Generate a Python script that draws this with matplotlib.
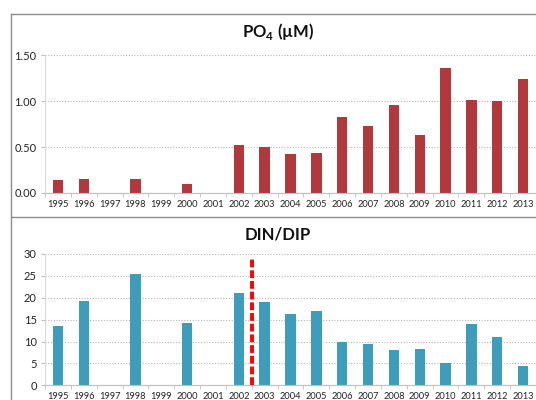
import matplotlib
matplotlib.use("Agg")
import matplotlib.pyplot as plt
import numpy as np
from matplotlib.lines import Line2D

years = [str(y) for y in range(1995, 2014)]
po4 = [0.14, 0.15, None, 0.15, None, 0.10, None, 0.52, 0.50, 0.42, 0.44,
       0.83, 0.73, 0.96, 0.63, 1.36, 1.01, 1.00, 1.24]
din_dip = [13.5, 19.2, None, 25.4, None, 14.2, None, 21.2, 19.1, 16.2, 17.0,
           10.0, 9.4, 8.0, 8.3, 5.0, 13.9, 11.1, 4.4]
po4_ticks = [0.0, 0.5, 1.0, 1.5]
ratio_ticks = [0, 5, 10, 15, 20, 25, 30]
break_after = "2002"

plt.rcParams['font.family'] = ['Lato', 'DejaVu Sans']
plt.rcParams['mathtext.fontset'] = 'custom'
plt.rcParams['mathtext.rm'] = 'Lato'
plt.rcParams['mathtext.bf'] = 'Lato:bold'

W, H = 536, 400
fig = plt.figure(figsize=(W / 100, H / 100), dpi=100)


def frac_x(px):
    return px / W


def frac_y(py):
    return 1 - py / H


def style_axes(ax, ticks, fmt):
    ax.set_xlim(-0.5, len(years) - 0.5)
    ax.set_ylim(ticks[0], ticks[-1])
    ax.set_yticks(ticks)
    ax.set_yticklabels([fmt(t) for t in ticks], fontsize=8, color='#222222')
    ax.set_xticks(range(len(years)))
    ax.set_xticklabels(years, fontsize=6.7, color='#222222')
    ax.set_xticks(np.arange(-0.5, len(years), 1), minor=True)
    ax.tick_params(axis='x', which='major', length=0, pad=5)
    ax.tick_params(axis='x', which='minor', length=3, color='#bfbfbf', direction='out')
    ax.tick_params(axis='y', length=3, color='#bfbfbf', pad=3)
    for s in ['top', 'right']:
        ax.spines[s].set_visible(False)
    ax.spines['left'].set_color('#d9d9d9')
    ax.spines['bottom'].set_color('#bfbfbf')
    ax.grid(axis='y', linestyle=(0, (1, 1.5)), color='#b5b5b5', linewidth=0.8)
    ax.set_axisbelow(True)


def bar_values(vals):
    return [np.nan if v is None else v for v in vals]


x = np.arange(len(years))

# Phosphate panel
ax1 = fig.add_axes([frac_x(45), frac_y(193), frac_x(536) - frac_x(45), frac_y(55) - frac_y(193)])
ax1.bar(x, bar_values(po4), width=0.4, color='#B1393D', edgecolor='none')
style_axes(ax1, po4_ticks, lambda t: f"{t:.2f}")
fig.text(frac_x(278), frac_y(32), r"PO$_\mathbf{4}$ (µM)", ha='center', va='center',
         fontsize=12, fontweight='bold', color='#111111')

# DIN/DIP panel
ax2 = fig.add_axes([frac_x(45), frac_y(385.3), frac_x(536) - frac_x(45), frac_y(254) - frac_y(385.3)])
ax2.bar(x, bar_values(din_dip), width=0.4, color='#3E9DBA', edgecolor='none')
style_axes(ax2, ratio_ticks, lambda t: f"{t:d}")
bx = years.index(break_after) + 0.5
ax2.plot([bx, bx], [0, 29], color='#FF0000', linewidth=2.8, linestyle=(0, (2.0, 0.75)),
         clip_on=False, zorder=5)
fig.text(frac_x(278), frac_y(234), "DIN/DIP", ha='center', va='center',
         fontsize=12, fontweight='bold', color='#111111')

# Chart frames
frame = dict(color='#8c8c8c', linewidth=1.0, transform=fig.transFigure)
fig.add_artist(Line2D([frac_x(10.5), 1.0], [frac_y(13.5), frac_y(13.5)], **frame))
fig.add_artist(Line2D([frac_x(10.5), frac_x(10.5)], [frac_y(13.5), 0.0], **frame))
fig.add_artist(Line2D([frac_x(10.5), 1.0], [frac_y(217.5), frac_y(217.5)], **frame))

fig.savefig("out.png", dpi=100)
